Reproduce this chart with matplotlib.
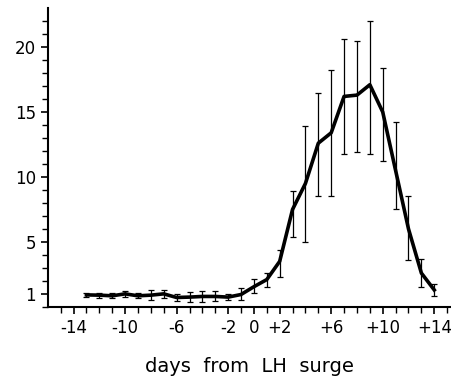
import matplotlib
matplotlib.use("Agg")
import matplotlib.pyplot as plt
import numpy as np

# days relative to LH surge
days = np.arange(-13, 15)

# mean values
mean = [0.92, 0.9, 0.85, 1.0, 0.85, 0.9, 1.0, 0.72, 0.75, 0.8, 0.8, 0.75,
        0.95, 1.55, 2.1, 3.5, 7.5, 9.5, 12.6, 13.4, 16.2, 16.3, 17.1, 15.0,
        10.5, 6.0, 2.6, 1.3]

# upper and lower ends of the error bars
upper = [1.1, 1.1, 1.05, 1.25, 1.05, 1.3, 1.3, 1.0, 1.15, 1.2, 1.2, 1.0,
         1.45, 2.15, 2.6, 4.4, 8.9, 13.9, 16.5, 18.2, 20.6, 20.5, 22.0, 18.4,
         14.2, 8.5, 3.7, 1.75]
lower = [0.75, 0.7, 0.65, 0.75, 0.65, 0.5, 0.7, 0.45, 0.4, 0.4, 0.45, 0.55,
         0.55, 1.05, 1.5, 2.3, 5.4, 5.0, 8.5, 8.5, 11.8, 11.9, 11.8, 11.2,
         7.5, 3.6, 1.55, 0.8]

xticks = [-14, -10, -6, -2, 0, 2, 6, 10, 14]
xticklabels = ["-14", "-10", "-6", "-2", "0", "+2", "+6", "+10", "+14"]
yticks = [1, 5, 10, 15, 20]

mean = np.array(mean)
yerr = [mean - np.array(lower), np.array(upper) - mean]

fig = plt.figure(figsize=(4.51, 3.85), dpi=100)
ax = fig.add_axes([0.106, 0.203, 0.894, 0.776])

ax.errorbar(days, mean, yerr=yerr, fmt="none", ecolor="black",
            elinewidth=0.9, capsize=2.5, capthick=0.9)
ax.plot(days, mean, color="black", linewidth=2.6, solid_joinstyle="round")

ax.set_xlim(-16, 15.3)
ax.set_ylim(0, 23)

ax.spines["top"].set_visible(False)
ax.spines["right"].set_visible(False)
ax.spines["left"].set_linewidth(1.5)
ax.spines["bottom"].set_linewidth(1.5)

ax.set_xticks(xticks)
ax.set_xticklabels(xticklabels)
ax.set_xticks(np.arange(-15, 16), minor=True)
ax.set_yticks(yticks)
ax.set_yticks(np.arange(0, 23), minor=True)

ax.tick_params(axis="both", which="major", labelsize=12, length=5, width=1.2)
ax.tick_params(axis="both", which="minor", length=4, width=1.0)

ax.set_xlabel("days  from  LH  surge", fontsize=14, labelpad=15)

fig.savefig("out.png", dpi=100)
